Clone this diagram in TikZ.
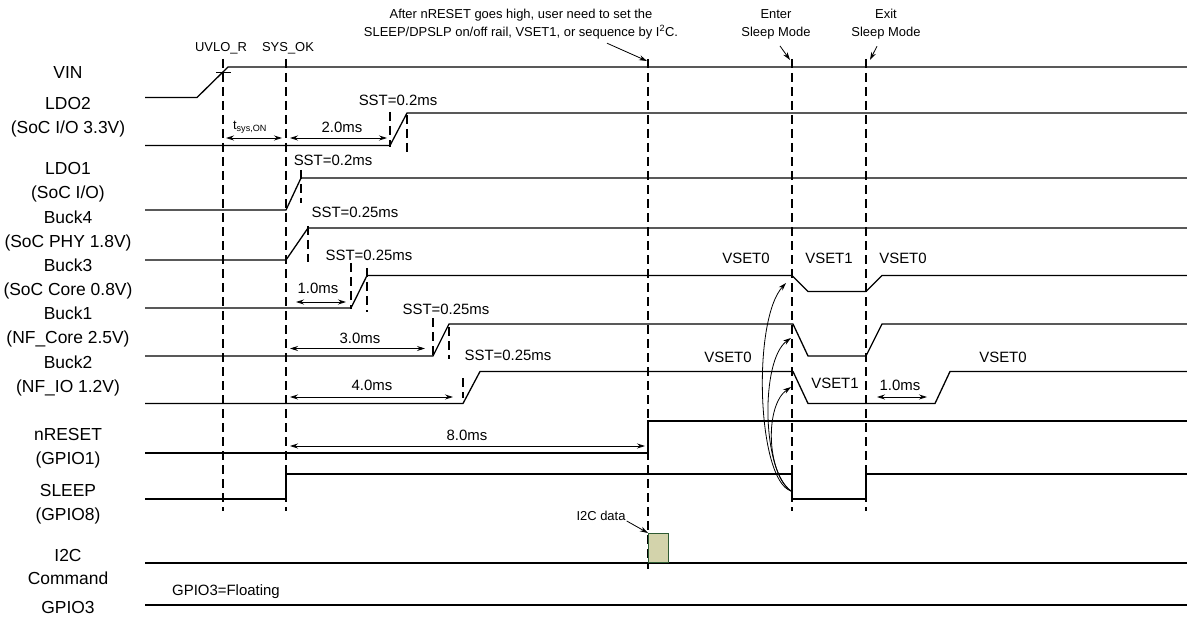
\documentclass[tikz,border=0pt]{standalone}
\usepackage{fontspec}
\setmainfont{Liberation Sans}
\usetikzlibrary{arrows.meta}
\definecolor{i2cfill}{RGB}{211,211,171}
\definecolor{i2cedge}{RGB}{45,90,50}

\begin{document}
\begin{tikzpicture}[x=1bp, y=-1bp,
    sig/.style={line width=1.3bp},
    guide/.style={line width=1.1bp, dash pattern=on 9bp off 5bp},
    dim/.style={line width=0.8bp, {Stealth[length=8bp,width=5bp]}-{Stealth[length=8bp,width=5bp]}},
    callout/.style={line width=0.8bp, -{Stealth[length=8bp,width=5bp]}},
    lbl/.style={font=\fontsize{15}{17}\selectfont, inner sep=0pt},
    note/.style={font=\fontsize{13}{18}\selectfont, align=center, inner sep=0pt},
    rail/.style={font=\fontsize{17.5}{24}\selectfont, align=center, inner sep=0pt}]
  \useasboundingbox (0,0) rectangle (1187,618);

  % rail names
  \node[rail] (nvin)   at (68,73)  {VIN};
  \node[rail] (nldo2)  at (68,117) {LDO2\\(SoC I/O 3.3V)};
  \node[rail] (nldo1)  at (68,182) {LDO1\\(SoC I/O)};
  \node[rail] (nbuck4) at (68,231) {Buck4\\(SoC PHY 1.8V)};
  \node[rail] (nbuck3) at (68,279) {Buck3\\(SoC Core 0.8V)};
  \node[rail] (nbuck1) at (68,327) {Buck1\\(NF\_Core 2.5V)};
  \node[rail] (nbuck2) at (68,376) {Buck2\\(NF\_IO 1.2V)};
  \node[rail] (nrst)   at (68,448) {nRESET\\(GPIO1)};
  \node[rail] (nsleep) at (68,504) {SLEEP\\(GPIO8)};
  \node[rail] (ni2c)   at (68,567) {I2C\\Command};
  \node[rail] (ngpio3) at (68,607) {GPIO3};

  % event markers
  \node[note] (uvlo)  at (221,48) {UVLO\_R};
  \node[note] (sysok) at (288,48) {SYS\_OK};
  \node[note] (rstnote) at (521,24) {After nRESET goes high, user need to set the\\SLEEP/DPSLP on/off rail, VSET1, or sequence by I\textsuperscript{2}C.};
  \node[note] (enter) at (776,24) {Enter\\Sleep Mode};
  \node[note] (exit)  at (886,24) {Exit\\Sleep Mode};
  \coordinate (rsttop) at (647,61);
  \coordinate (entertop) at (790,60);
  \coordinate (exittop) at (870,60);
  \draw[callout] (rstnote.south -| 607,0) ++(0,4) -- (rsttop);
  \draw[callout] (enter.south) ++(4,7) -- (entertop);
  \draw[callout] (exit.south) ++(-9,7) -- (exittop);

  % vertical guides
  \foreach \x in {223,286,792,866} \draw[guide] (\x,59) -- (\x,511);
  \draw[guide] (648,59) -- (648,569);
  % soft-start markers
  \draw[guide] (390,112) -- (390,147);
  \draw[guide] (407,115) -- (407,157);
  \draw[guide] (301,170) -- (301,203);
  \draw[guide] (308,226) -- (308,262);
  \draw[guide] (351,263) -- (351,309);
  \draw[guide] (367,268) -- (367,312);
  \draw[guide] (433,318) -- (433,358);
  \draw[guide] (449,327) -- (449,359);
  \draw[guide] (463,378) -- (463,398);

  % waveforms
  \draw[sig] (145,97.5) -- (197,97.5) -- (228,67) -- (1187,67);
  \draw[line width=0.8bp] (216,72) -- (231,72);
  \draw[sig] (145,145.5) -- (390,145.5) -- (407,113) -- (1187,113);
  \draw[sig] (145,210) -- (286,210) -- (301,178) -- (1187,178);
  \draw[sig] (145,260) -- (286,260) -- (308,228) -- (1187,228);
  \draw[sig] (145,308) -- (351,308) -- (367,275.5) -- (792,275.5) -- (808,291.5)
    -- (866,291.5) -- (882,275.5) -- (1187,275.5);
  \draw[sig] (145,356) -- (433,356) -- (449,324) -- (793,324) -- (808,356)
    -- (866,356) -- (882,324) -- (1187,324);
  \draw[sig] (145,403.5) -- (463,403.5) -- (480,371.5) -- (793,371.5) -- (808,403.5)
    -- (935,403.5) -- (950,371.5) -- (1187,371.5);
  \draw[sig] (145,453) -- (648,453) -- (648,421) -- (1187,421);
  \draw[sig] (145,499) -- (286,499) -- (286,474) -- (792,474) -- (792,499)
    -- (866,499) -- (866,474) -- (1187,474);
  \draw[sig] (145,563) -- (1187,563);
  \draw[sig] (145,605) -- (1187,605);

  % I2C burst
  \node[draw=i2cedge, fill=i2cfill, line width=1bp, minimum width=19.5bp, minimum height=29bp,
    inner sep=0pt, anchor=south west] (i2cbox) at (648,563) {};
  \node[note] (i2cdata) at (601,516) {I2C data};
  \draw[callout] (i2cdata.south east) ++(1,0) -- (i2cbox.north west);

  % soft-start times
  \node[lbl] (sst1) at (398,100) {SST=0.2ms};
  \node[lbl] (sst2) at (333,160) {SST=0.2ms};
  \node[lbl] (sst3) at (355,212) {SST=0.25ms};
  \node[lbl] (sst4) at (369,255) {SST=0.25ms};
  \node[lbl] (sst5) at (446,309) {SST=0.25ms};
  \node[lbl] (sst6) at (508,355) {SST=0.25ms};

  % delays
  \coordinate (ta) at (226,138); \coordinate (tb) at (282,138);
  \draw[dim] (ta) -- (tb);
  \node[note] (tson) at (250,127) {t\textsubscript{sys,ON}};
  \coordinate (d2a) at (290,138); \coordinate (d2b) at (387,138);
  \draw[dim] (d2a) -- (d2b);
  \node[lbl] (d2) at (342,127) {2.0ms};
  \coordinate (d1a) at (296,302); \coordinate (d1b) at (346,302);
  \draw[dim] (d1a) -- (d1b);
  \node[lbl] (d1) at (318,288) {1.0ms};
  \coordinate (d3a) at (290,348.5); \coordinate (d3b) at (425,348.5);
  \draw[dim] (d3a) -- (d3b);
  \node[lbl] (d3) at (360,338) {3.0ms};
  \coordinate (d4a) at (290,397); \coordinate (d4b) at (453,397);
  \draw[dim] (d4a) -- (d4b);
  \node[lbl] (d4) at (372,385) {4.0ms};
  \coordinate (d8a) at (290,446); \coordinate (d8b) at (645,446);
  \draw[dim] (d8a) -- (d8b);
  \node[lbl] (d8) at (467,435) {8.0ms};
  \coordinate (dsa) at (877,397); \coordinate (dsb) at (927,397);
  \draw[dim] (dsa) -- (dsb);
  \node[lbl] (ds) at (900,385) {1.0ms};

  % voltage settings
  \node[lbl] (v3a) at (746,258) {VSET0};
  \node[lbl] (v3b) at (829,258) {VSET1};
  \node[lbl] (v3c) at (903,258) {VSET0};
  \node[lbl] (v2a) at (728,357) {VSET0};
  \node[lbl] (v2b) at (835,383) {VSET1};
  \node[lbl] (v2c) at (1003,357) {VSET0};

  % SLEEP falling edge triggers VSET1
  \coordinate (sleepdn) at (791,491);
  \coordinate (b3dn) at (786,283);
  \coordinate (b1dn) at (791,338);
  \coordinate (b2dn) at (791,387);
  \draw[callout] (sleepdn) .. controls (757,480) and (752,320) .. (b3dn);
  \draw[callout] (sleepdn) .. controls (762,472) and (760,360) .. (b1dn);
  \draw[callout] (sleepdn) .. controls (766,472) and (765,405) .. (b2dn);

  \node[lbl, anchor=west] (float) at (172,592) {GPIO3=Floating};
\end{tikzpicture}
\end{document}
